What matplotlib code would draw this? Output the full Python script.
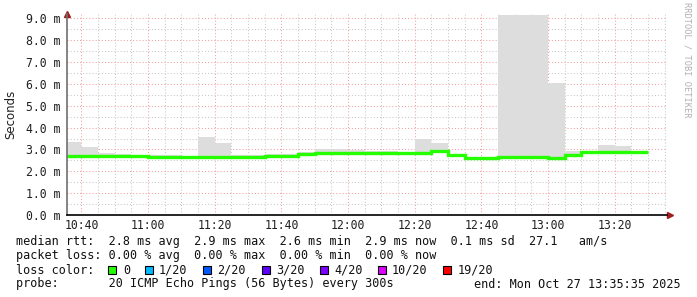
import numpy as np
import matplotlib
matplotlib.use('Agg')
import matplotlib.pyplot as plt
import matplotlib.dates as mdates
from matplotlib.patches import Rectangle
from matplotlib.ticker import FuncFormatter, MultipleLocator

# 5 minute bins, start times
bin_start = np.arange(np.datetime64('2025-10-27T10:35'), np.datetime64('2025-10-27T13:30'),
                      np.timedelta64(5, 'm'))
# median rtt (ms)
median = [2.70, 2.70, 2.70, 2.70, 2.70, 2.64, 2.64, 2.64, 2.64, 2.66,
          2.66, 2.66, 2.68, 2.68, 2.80, 2.86, 2.86, 2.86, 2.86, 2.86,
          2.86, 2.86, 2.91, 2.73, 2.62, 2.62, 2.64, 2.64, 2.64, 2.61,
          2.76, 2.88, 2.88, 2.88, 2.88]
# smoke top (max rtt, ms)
smoke_hi = [3.35, 3.11, 2.82, 2.78, 2.75, 2.73, 2.75, 2.70, 3.56, 3.31,
            2.74, 2.74, 2.79, 2.79, 2.88, 3.00, 3.00, 2.98, 2.95, 2.93,
            2.90, 3.48, 3.30, 2.78, 2.66, 2.66, 9.15, 9.15, 9.15, 6.03,
            2.91, 2.94, 3.20, 3.16, 2.94]
# smoke bottom (min rtt, ms)
smoke_lo = [2.64, 2.64, 2.64, 2.64, 2.64, 2.60, 2.60, 2.60, 2.60, 2.62,
            2.62, 2.62, 2.64, 2.64, 2.75, 2.82, 2.82, 2.80, 2.74, 2.76,
            2.80, 2.82, 2.86, 2.70, 2.58, 2.58, 2.60, 2.60, 2.60, 2.57,
            2.72, 2.84, 2.84, 2.84, 2.84]

t_start = np.datetime64('2025-10-27T10:35:35')
t_end = np.datetime64('2025-10-27T13:35:35')

stats_line1 = 'median rtt:  2.8 ms avg  2.9 ms max  2.6 ms min  2.9 ms now  0.1 ms sd  27.1   am/s'
stats_line2 = 'packet loss: 0.00 % avg  0.00 % max  0.00 % min  0.00 % now'
probe_text = 'probe:       20 ICMP Echo Pings (56 Bytes) every 300s'
end_text = 'end: Mon Oct 27 13:35:35 2025'
loss_labels = ['0', '1/20', '2/20', '3/20', '4/20', '10/20', '19/20']
loss_colors = ['#26ff00', '#00b8ff', '#0059ff', '#5e00ff', '#7e00ff', '#dd00ff', '#ff0000']

W, H = 697, 297
mono = 'DejaVu Sans Mono'

fig = plt.figure(figsize=(W / 100, H / 100), dpi=100)
fig.patch.set_facecolor('white')
ax = fig.add_axes([66.7 / W, (H - 215) / H, 600 / W, (215 - 14) / H])

edges = mdates.date2num(np.append(bin_start, bin_start[-1] + np.timedelta64(5, 'm')).astype('datetime64[s]').astype(object))
ax.stairs(smoke_hi, edges, baseline=smoke_lo, fill=True, color='#dddddd', lw=0)
ax.stairs(median, edges, baseline=None, color='#26ff00', lw=2.4)

ax.set_xlim(mdates.date2num(t_start.astype(object)), mdates.date2num(t_end.astype(object)))
ax.set_ylim(0, 9.2)

ax.xaxis.set_major_locator(mdates.MinuteLocator(byminute=[0, 20, 40]))
ax.xaxis.set_minor_locator(mdates.MinuteLocator(byminute=range(0, 60, 5)))
ax.xaxis.set_major_formatter(mdates.DateFormatter('%H:%M'))
ax.yaxis.set_major_locator(MultipleLocator(1.0))
ax.yaxis.set_minor_locator(MultipleLocator(0.5))
ax.yaxis.set_major_formatter(FuncFormatter(lambda v, p: '%.1f m' % v))

ax.set_axisbelow(True)
ax.grid(which='major', color='#f2a0a0', lw=0.75, linestyle=(0, (1, 2)))
ax.grid(which='minor', color='#c8c8c8', lw=0.75, linestyle=(0, (1, 2)))

ax.tick_params(which='both', length=0)
ax.tick_params(axis='y', pad=4.8, labelsize=8.3)
ax.tick_params(axis='x', pad=3.2, labelsize=8.3)
for lab in ax.get_xticklabels() + ax.get_yticklabels():
    lab.set_family(mono)
    lab.set_color('#202020')

for s in ['top', 'right']:
    ax.spines[s].set_visible(False)
ax.spines['left'].set_color('#707070')
ax.spines['bottom'].set_color('#000000')
ax.spines['left'].set_linewidth(1.2)
ax.spines['bottom'].set_linewidth(1.2)

# axis arrows
ax.plot([0], [1.0], marker='^', ms=5, color='#a01c1c', transform=ax.transAxes, clip_on=False)
ax.plot([1.005], [0], marker='>', ms=5, color='#a01c1c', transform=ax.transAxes, clip_on=False)

ax.set_ylabel('Seconds', fontsize=8.5, color='#202020')
ax.yaxis.set_label_coords(-0.082, 0.5)

fig.text(687 / W, 1 - 60 / H, 'RRDTOOL / TOBI OETIKER', rotation=270, color='#b0b0b0',
         fontsize=6.2, family=mono, ha='center', va='center')


def fx(x):
    return x / W


def fy(y):
    return 1 - y / H


fs = 8.5
fig.text(fx(16), fy(241), stats_line1, family=mono, fontsize=fs, va='center', color='#101010')
fig.text(fx(16), fy(255), stats_line2, family=mono, fontsize=fs, va='center', color='#101010')
fig.text(fx(16), fy(270), 'loss color:', family=mono, fontsize=fs, va='center', color='#101010')
box_x = [108, 144.5, 203, 261.5, 320, 377.5, 443]
text_x = [123, 158.5, 217.5, 276, 334, 392, 457.5]
for bx, tx, lab, col in zip(box_x, text_x, loss_labels, loss_colors):
    fig.patches.append(Rectangle((fx(bx), fy(274)), 8 / W, 8 / H, transform=fig.transFigure,
                                 facecolor=col, edgecolor='black', lw=0.8))
    fig.text(fx(tx), fy(270), lab, family=mono, fontsize=fs, va='center', color='#101010')
fig.text(fx(16), fy(284), probe_text, family=mono, fontsize=fs, va='center', color='#101010')
fig.text(fx(681), fy(284), end_text, family=mono, fontsize=fs, va='center', ha='right', color='#101010')

fig.savefig('out.png', dpi=100)
